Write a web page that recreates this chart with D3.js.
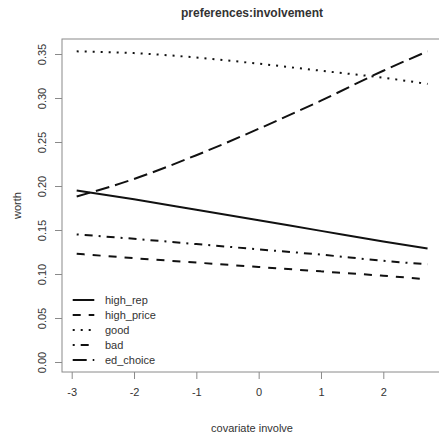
<!DOCTYPE html>
<html><head><meta charset="utf-8">
<script src="https://cdn.jsdelivr.net/npm/d3@7"></script>
<style>body{margin:0;background:#fff}svg{display:block}</style>
</head><body>
<script>
const covariate = [-2.92, -2, -1, 0, 1, 2, 2.71];
const seriesNames = ["high_rep", "high_price", "good", "bad", "ed_choice"];
const highRep   = [0.195, 0.185, 0.173, 0.161, 0.149, 0.137, 0.129];
const highPrice = [0.123, 0.118, 0.113, 0.108, 0.103, 0.098, 0.094];
const good      = [0.353, 0.351, 0.346, 0.339, 0.331, 0.323, 0.316];
const bad       = [0.145, 0.140, 0.134, 0.128, 0.122, 0.115, 0.111];
const edChoice  = [0.188, 0.208, 0.235, 0.265, 0.297, 0.331, 0.353];
const xTicks = [-3, -2, -1, 0, 1, 2];
const xTickLabels = ["-3", "-2", "-1", "0", "1", "2"];
const yTicks = [0.00, 0.05, 0.10, 0.15, 0.20, 0.25, 0.30, 0.35];

const W = 439, H = 436;
const box = {l: 62, r: 442, t: 39, b: 372};
const svg = d3.select("body").append("svg").attr("width", W).attr("height", H);

const x = d3.scaleLinear().domain([-3, 2]).range([71.7, 383.3]);
const y = d3.scaleLinear().domain([0, 0.35]).range([362, 54]);

const font = "Liberation Sans, Arial, sans-serif";
const txt = "#333";
const axCol = "#8a8a8a";

// box
svg.append("rect").attr("x", box.l).attr("y", box.t)
  .attr("width", box.r - box.l).attr("height", box.b - box.t)
  .attr("fill", "none").attr("stroke", axCol).attr("stroke-width", 1);

// x axis
const xAxis = svg.append("g").attr("transform", `translate(0,${box.b})`)
  .call(d3.axisBottom(x).tickValues(xTicks).tickSize(7).tickPadding(9)
    .tickFormat((d, i) => xTickLabels[i]));
xAxis.select(".domain").remove();
xAxis.selectAll("line").attr("stroke", axCol);
xAxis.selectAll("text").attr("font-family", font).attr("font-size", 11).attr("fill", txt);

// y axis
const yAxis = svg.append("g").attr("transform", `translate(${box.l},0)`)
  .call(d3.axisLeft(y).tickValues(yTicks).tickSize(7).tickFormat(d3.format(".2f")));
yAxis.select(".domain").remove();
yAxis.selectAll("line").attr("stroke", axCol);
yAxis.selectAll("text").attr("font-family", font).attr("font-size", 11).attr("fill", txt)
  .attr("text-anchor", "middle").attr("dy", null).attr("x", null)
  .attr("transform", "translate(-20,0) rotate(-90)").attr("dominant-baseline", "central");

// titles
svg.append("text").attr("x", (box.l + box.r) / 2).attr("y", 17).attr("text-anchor", "middle")
  .attr("font-family", font).attr("font-size", 12).attr("font-weight", "bold").attr("fill", txt)
  .text("preferences:involvement");
svg.append("text").attr("x", (box.l + box.r) / 2).attr("y", 432).attr("text-anchor", "middle")
  .attr("font-family", font).attr("font-size", 11).attr("fill", txt).text("covariate involve");
svg.append("text").attr("transform", `translate(17,${(box.t + box.b) / 2}) rotate(-90)`)
  .attr("text-anchor", "middle").attr("dominant-baseline", "central")
  .attr("font-family", font).attr("font-size", 11).attr("fill", txt).text("worth");

// lines
const dashes = ["none", "8,8", "2,6", "2,6,8,6", "14,6"];
const seriesVals = [highRep, highPrice, good, bad, edChoice];
const line = d3.line().x(d => x(d[0])).y(d => y(d[1])).curve(d3.curveMonotoneX);
seriesVals.forEach((vals, i) => {
  svg.append("path").datum(covariate.map((c, j) => [c, vals[j]]))
    .attr("d", line).attr("fill", "none").attr("stroke", "#111")
    .attr("stroke-width", 2).attr("stroke-dasharray", dashes[i]);
});

// legend
seriesNames.forEach((name, i) => {
  const ly = 300 + i * 15;
  svg.append("line").attr("x1", 72.7).attr("x2", 94.3).attr("y1", ly).attr("y2", ly)
    .attr("stroke", "#111").attr("stroke-width", 2).attr("stroke-dasharray", dashes[i]);
  svg.append("text").attr("x", 105).attr("y", ly).attr("dominant-baseline", "central")
    .attr("font-family", font).attr("font-size", 11).attr("fill", txt).text(name);
});
</script>
</body></html>
